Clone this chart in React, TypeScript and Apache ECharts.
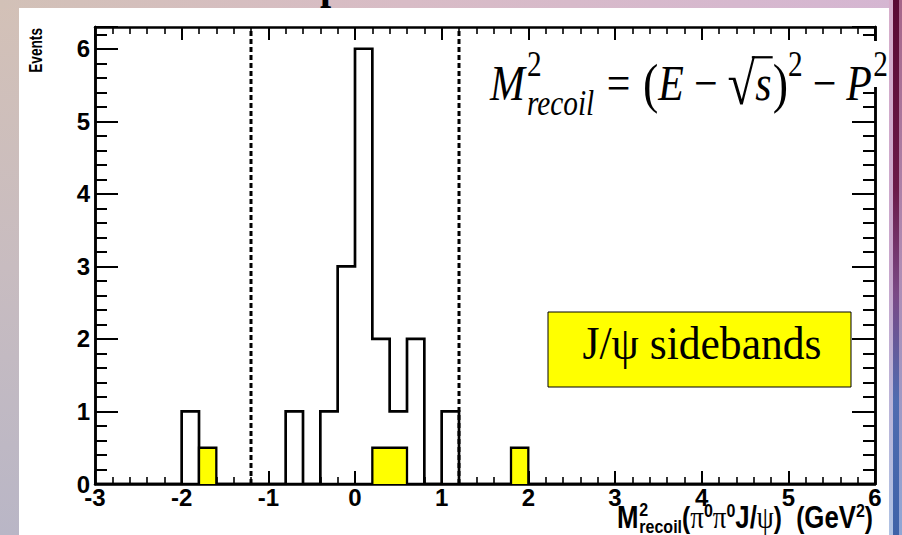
import React, { useEffect, useRef } from 'react';
import * as echarts from 'echarts';

// ---------------- data ----------------
const X_MIN = -3;
const X_MAX = 6;
const X_STEP = 1;
const BIN_WIDTH = 0.2;
const Y_MIN = 0;
const Y_MAX = 6.3;
const Y_STEP = 1;
const Y_MINOR_STEP = 0.2;

// signal-region histogram: bin low edges and entries
const signalBinLow = [-2.0, -0.8, -0.4, -0.2, 0.0, 0.2, 0.4, 0.6, 1.0];
const signalCounts = [1, 1, 1, 3, 6, 2, 1, 2, 1];

// J/psi sideband histogram (normalised, 0.5 per entry)
const sidebandBinLow = [-1.8, 0.2, 0.4, 1.8];
const sidebandCounts = [0.5, 0.5, 0.5, 0.5];

// signal window cut lines
const cutValues = [-1.2, 1.2];

const yTitle = 'Events';
const boxText = 'J/ψ sidebands';
const slideTitleFragment = 'p';

// ---------------- helpers ----------------
const SANS = "'Liberation Sans', Arial, sans-serif";
const SERIF = "'Liberation Serif', 'Times New Roman', serif";

type Tok = {
  t: string; fam: string; it?: boolean; b?: boolean; k?: number; dy?: number;
  gl?: number; gr?: number; stack?: Tok; sqrt?: boolean; over?: boolean;
};

function buildHist(lows: number[], counts: number[]) {
  const n = Math.round((X_MAX - X_MIN) / BIN_WIDTH);
  const vals = new Array(n).fill(0);
  lows.forEach((lo, i) => {
    const k = Math.round((lo - X_MIN) / BIN_WIDTH);
    vals[k] += counts[i];
  });
  const pts: number[][] = [[X_MIN, 0]];
  for (let k = 0; k < n; k++) {
    const lo = +(X_MIN + k * BIN_WIDTH).toFixed(4);
    const hi = +(X_MIN + (k + 1) * BIN_WIDTH).toFixed(4);
    pts.push([lo, vals[k]]);
    pts.push([hi, vals[k]]);
  }
  pts.push([X_MAX, 0]);
  return pts;
}

const formulaTokens: Tok[] = [
  { t: 'M', fam: SERIF, it: true },
  { t: '2', fam: SERIF, k: 0.7, dy: -0.47, gl: 0.05, stack: { t: 'recoil', fam: SERIF, it: true, k: 0.7, dy: 0.3 } },
  { t: '=', fam: SERIF, gl: 0.3, gr: 0.3 },
  { t: '(', fam: SERIF, k: 1.1, dy: 0.04 },
  { t: 'E', fam: SERIF, it: true },
  { t: '−', fam: SERIF, gl: 0.24, gr: 0.24 },
  { t: '√', fam: SERIF, k: 1.2, dy: 0.08, sqrt: true },
  { t: 's', fam: SERIF, it: true, over: true },
  { t: ')', fam: SERIF, k: 1.1, dy: 0.04, gl: 0.03 },
  { t: '2', fam: SERIF, k: 0.7, dy: -0.47 },
  { t: '−', fam: SERIF, gl: 0.24, gr: 0.24 },
  { t: 'P', fam: SERIF, it: true },
  { t: '2', fam: SERIF, k: 0.7, dy: -0.47, gl: 0.03 },
];

const xTitleTokens: Tok[] = [
  { t: 'M', fam: SANS, b: true },
  { t: '2', fam: SANS, b: true, k: 0.62, dy: -0.38, gl: 0.03, stack: { t: 'recoil', fam: SANS, b: true, k: 0.62, dy: 0.16 } },
  { t: '(', fam: SANS, b: true, k: 0.95 },
  { t: 'π', fam: SERIF, k: 1.05 },
  { t: '0', fam: SANS, b: true, k: 0.62, dy: -0.34 },
  { t: 'π', fam: SERIF, k: 1.05 },
  { t: '0', fam: SANS, b: true, k: 0.62, dy: -0.34 },
  { t: 'J', fam: SANS, b: true },
  { t: '/', fam: SANS, b: true },
  { t: 'ψ', fam: SERIF, k: 1.05 },
  { t: ')', fam: SANS, b: true, k: 0.95 },
  { t: '(', fam: SANS, b: true, k: 0.95, gl: 0.55 },
  { t: 'GeV', fam: SANS, b: true },
  { t: '2', fam: SANS, b: true, k: 0.62, dy: -0.34 },
  { t: ')', fam: SANS, b: true, k: 0.95 },
];

export default function App() {
  const ref = useRef<HTMLDivElement>(null);

  useEffect(() => {
    if (!ref.current) return;
    const chart = echarts.init(ref.current, null, { renderer: 'svg' });
    const ctx = document.createElement('canvas').getContext('2d')!;
    const fontStr = (tk: Tok, F: number) =>
      `${tk.it ? 'italic' : 'normal'} ${tk.b ? 'bold' : 'normal'} ${(tk.k ?? 1) * F}px ${tk.fam}`;
    const measure = (tk: Tok, F: number) => {
      ctx.font = fontStr(tk, F);
      return ctx.measureText(tk.t);
    };
    const layout = (tokens: Tok[], F: number) => {
      let x = 0;
      const items: { tk: Tok; x: number; w: number }[] = [];
      for (const tk of tokens) {
        x += (tk.gl ?? 0) * F;
        let w = measure(tk, F).width;
        items.push({ tk, x, w });
        if (tk.stack) {
          const w2 = measure(tk.stack, F).width;
          items.push({ tk: tk.stack, x, w: w2 });
          w = Math.max(w, w2);
        }
        x += w + (tk.gr ?? 0) * F;
      }
      return { items, width: x };
    };
    const buildText = (tokens: Tok[], targetW: number, anchorX: number, align: 'left' | 'right', baseY: number, z: number, scaleY: number) => {
      const m0 = layout(tokens, 100);
      const F = (100 * targetW) / m0.width;
      const m = layout(tokens, F);
      const x0 = align === 'right' ? anchorX - m.width : anchorX;
      const children: any[] = m.items.map((it) => ({
        type: 'text',
        x: it.x,
        y: (it.tk.dy ?? 0) * F - 0.34 * (it.tk.k ?? 1) * F,
        z,
        silent: true,
        style: {
          text: it.tk.t,
          fontFamily: it.tk.fam,
          fontSize: (it.tk.k ?? 1) * F,
          fontStyle: it.tk.it ? 'italic' : 'normal',
          fontWeight: it.tk.b ? 'bold' : 'normal',
          fill: '#000',
          align: 'left',
          verticalAlign: 'middle',
        },
      }));
      const sq = m.items.find((it) => it.tk.sqrt);
      const ov = m.items.find((it) => it.tk.over);
      if (sq && ov) {
        const asc = measure(sq.tk, F).actualBoundingBoxAscent - (sq.tk.dy ?? 0) * F;
        const yb = -asc + F * 0.025;
        children.push({
          type: 'line', z, silent: true,
          shape: { x1: sq.x + sq.w * 0.88, y1: yb, x2: ov.x + ov.w + F * 0.03, y2: yb },
          style: { stroke: '#000', lineWidth: F * 0.045 },
        });
      }
      return { type: 'group', x: x0, y: baseY, scaleY, children };
    };

    ctx.font = `normal normal 100px ${SERIF}`;
    const boxF = (100 * 239) / ctx.measureText(boxText).width;

    const signalPts = buildHist(signalBinLow, signalCounts);
    const sidebandPts = buildHist(sidebandBinLow, sidebandCounts);

    const labelRich = { t: { color: '#000', fontFamily: SANS, fontWeight: 'bold', fontSize: 24 } };
    const axisLine = { show: true, onZero: false, lineStyle: { color: '#000', width: 2.5 } };

    const xCommon: any = {
      type: 'value', min: X_MIN, max: X_MAX, interval: X_STEP,
      splitLine: { show: false }, axisLine,
      axisTick: { show: true, inside: true, length: 13, lineStyle: { color: '#000', width: 2 } },
      minorTick: { show: true, splitNumber: Math.round(X_STEP / BIN_WIDTH), length: 7, lineStyle: { color: '#000', width: 1.6 } },
      minorSplitLine: { show: false },
    };
    const yCommon: any = { type: 'value', min: Y_MIN, max: Y_MAX, splitLine: { show: false }, axisLine };
    const yMinor = (pos: string) => ({
      ...yCommon, position: pos, interval: Y_MINOR_STEP,
      axisTick: { show: true, inside: true, length: 12, lineStyle: { color: '#000', width: 2 } },
      axisLabel: { show: false },
    });
    const yMajor = (pos: string, labels: boolean) => ({
      ...yCommon, position: pos, interval: Y_STEP,
      axisTick: { show: true, inside: true, length: 23, lineStyle: { color: '#000', width: 2 } },
      axisLabel: {
        show: labels, margin: 5, showMinLabel: true, showMaxLabel: true,
        fontSize: 24, fontWeight: 'bold', fontFamily: SANS, color: '#000',
        rich: labelRich,
        formatter: (v: number) => (Math.abs(v - Math.round(v)) < 1e-6 ? '{t|' + Math.round(v) + '}' : ''),
      },
    });

    const graphic: any[] = [
      // covers the frame behind the formula
      { type: 'rect', z: 40, silent: true, shape: { x: 470, y: 41, width: 419, height: 46 }, style: { fill: '#fff' } },
      buildText(formulaTokens, 398, 490, 'left', 100, 60, 1.2),
      buildText(xTitleTokens, 256, 873, 'right', 528, 60, 1.2),
      {
        type: 'text', x: 36, y: 28, rotation: Math.PI / 2, scaleX: 0.72, z: 60, silent: true,
        style: { text: yTitle, fontFamily: SANS, fontWeight: 'bold', fontSize: 19, fill: '#000', align: 'right', verticalAlign: 'middle' },
      },
      { type: 'rect', z: 50, silent: true, shape: { x: 548, y: 312, width: 303, height: 75 }, style: { fill: '#ffff00', stroke: '#000', lineWidth: 1 } },
      {
        type: 'text', x: 702, y: 359, scaleY: 1.08, z: 60, silent: true,
        style: { text: boxText, fontFamily: SERIF, fontSize: boxF, fill: '#000', align: 'center', verticalAlign: 'middle', y: -0.34 * boxF },
      },
      {
        type: 'text', x: 320, y: -15, z: 60, silent: true,
        style: { text: slideTitleFragment, fontFamily: SERIF, fontWeight: 'bold', fontSize: 40, fill: '#000', align: 'left', verticalAlign: 'middle' },
      },
    ];

    const cutSeries = cutValues.map((v, i) => ({
      type: 'line', name: 'cut' + i, xAxisIndex: 0, yAxisIndex: 0,
      data: [[v, Y_MIN], [v, Y_MAX]],
      symbol: 'none', showSymbol: false, silent: true, z: 2,
      lineStyle: { color: '#000', width: 3, type: [5, 3] },
    }));

    chart.setOption({
      animation: false,
      backgroundColor: 'transparent',
      grid: { left: 95, right: 27, top: 27, bottom: 51, containLabel: false, outerBoundsMode: 'none' },
      xAxis: [
        {
          ...xCommon, position: 'bottom',
          axisLabel: {
            show: true, margin: 1, showMinLabel: true, showMaxLabel: true,
            fontSize: 24, fontWeight: 'bold', fontFamily: SANS, color: '#000',
            rich: labelRich, formatter: (v: number) => '{t|' + v + '}',
          },
        },
        { ...xCommon, position: 'top', axisLabel: { show: false } },
      ],
      yAxis: [yMinor('left'), yMajor('left', true), yMinor('right'), yMajor('right', false)],
      series: [
        ...cutSeries,
        {
          type: 'line', name: 'signal', xAxisIndex: 0, yAxisIndex: 0, data: signalPts,
          symbol: 'none', showSymbol: false, silent: true, z: 3,
          lineStyle: { color: '#000', width: 2.7, join: 'miter' },
        },
        {
          type: 'line', name: 'sideband', xAxisIndex: 0, yAxisIndex: 0, data: sidebandPts,
          symbol: 'none', showSymbol: false, silent: true, z: 4,
          lineStyle: { color: '#000', width: 2.3, join: 'miter' },
          areaStyle: { color: '#ffff00', opacity: 1 },
        },
      ],
      graphic,
    });
    return () => chart.dispose();
  }, []);

  return (
    <div style={{ position: 'fixed', left: 0, top: 0, width: 902, height: 535, overflow: 'hidden', background: 'linear-gradient(180deg, #d3c1b7 0%, #c8bcc0 50%, #b9b6c6 100%)' }}>
      <div style={{ position: 'absolute', left: 0, top: 0, width: 902, height: 9, background: 'linear-gradient(90deg, #d2c1b7 0%, #d8bcc6 45%, #d5b6d2 100%)' }} />
      <div style={{ position: 'absolute', left: 19, top: 8, width: 870, height: 527, background: '#ffffff' }} />
      <div style={{ position: 'absolute', left: 889, top: 0, width: 4, height: 535, background: 'linear-gradient(180deg, #d7aecb 0%, #c8a6cc 50%, #aec2e4 100%)' }} />
      <div style={{ position: 'absolute', left: 893, top: 0, width: 6, height: 535, background: 'linear-gradient(180deg, #5a0b33 0%, #6a1a48 35%, #7a4a86 55%, #4f6cb0 75%, #3e62a8 100%)' }} />
      <div style={{ position: 'absolute', left: 899, top: 0, width: 3, height: 535, background: 'linear-gradient(180deg, #a56488 0%, #b08cb4 50%, #8ea6d6 100%)' }} />
      <div ref={ref} style={{ position: 'absolute', left: 0, top: 0, width: 902, height: 535 }} />
    </div>
  );
}
